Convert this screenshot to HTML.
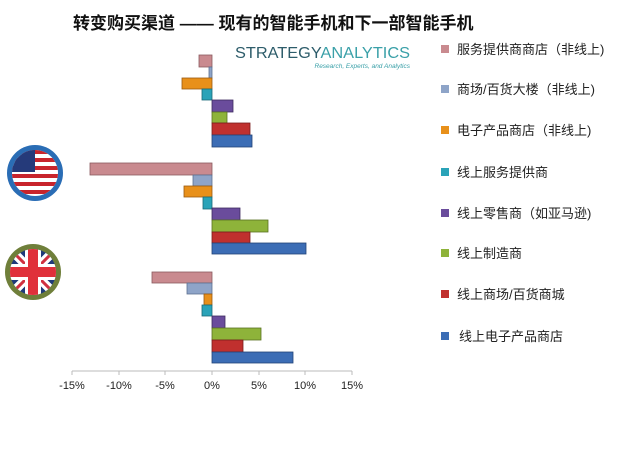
<!DOCTYPE html>
<html><head><meta charset="utf-8"><style>
body{margin:0;background:#fff;}
svg{display:block;font-family:"Liberation Sans","Noto Sans CJK SC",sans-serif;}
</style></head><body>
<svg width="640" height="451" viewBox="0 0 640 451" xmlns="http://www.w3.org/2000/svg">
<defs>
<clipPath id="c1"><circle cx="35" cy="173" r="23"/></clipPath>
<clipPath id="c2"><circle cx="33" cy="272" r="23"/></clipPath>
</defs>
<text x="73" y="29" font-size="17" font-weight="bold" fill="#111">转变购买渠道 —— 现有的智能手机和下一部智能手机</text>
<text x="235" y="58" font-size="16" fill="#2d5c6a" textLength="175" lengthAdjust="spacingAndGlyphs">STRATEGY<tspan fill="#3aa0a8">ANALYTICS</tspan></text>
<text x="410" y="68" font-size="6.5" fill="#3aa0a8" text-anchor="end" font-style="italic">Research, Experts, and Analytics</text>

<g stroke-width="0.8">
<rect x="199" y="55" width="13" height="12" fill="#c98a8f" stroke="#8a5a5e"/>
<rect x="209" y="67" width="3" height="11" fill="#8ea4c8" stroke="#5e7090"/>
<rect x="182" y="78" width="30" height="11" fill="#e8901a" stroke="#9a5a10"/>
<rect x="202" y="89" width="10" height="11" fill="#2aa3b8" stroke="#1a6a78"/>
<rect x="212" y="100" width="21" height="12" fill="#6a4c9c" stroke="#3f2c60"/>
<rect x="212" y="112" width="15" height="11" fill="#8eb33a" stroke="#5a7222"/>
<rect x="212" y="123" width="38" height="12" fill="#c0302e" stroke="#7a1c1c"/>
<rect x="212" y="135" width="40" height="12" fill="#3c6db5" stroke="#224478"/>
<rect x="90" y="163" width="122" height="12" fill="#c98a8f" stroke="#8a5a5e"/>
<rect x="193" y="175" width="19" height="11" fill="#8ea4c8" stroke="#5e7090"/>
<rect x="184" y="186" width="28" height="11" fill="#e8901a" stroke="#9a5a10"/>
<rect x="203" y="197" width="9" height="12" fill="#2aa3b8" stroke="#1a6a78"/>
<rect x="212" y="208" width="28" height="12" fill="#6a4c9c" stroke="#3f2c60"/>
<rect x="212" y="220" width="56" height="12" fill="#8eb33a" stroke="#5a7222"/>
<rect x="212" y="232" width="38" height="11" fill="#c0302e" stroke="#7a1c1c"/>
<rect x="212" y="243" width="94" height="11" fill="#3c6db5" stroke="#224478"/>
<rect x="152" y="272" width="60" height="11" fill="#c98a8f" stroke="#8a5a5e"/>
<rect x="187" y="283" width="25" height="11" fill="#8ea4c8" stroke="#5e7090"/>
<rect x="204" y="294" width="8" height="11" fill="#e8901a" stroke="#9a5a10"/>
<rect x="202" y="305" width="10" height="11" fill="#2aa3b8" stroke="#1a6a78"/>
<rect x="212" y="316" width="13" height="12" fill="#6a4c9c" stroke="#3f2c60"/>
<rect x="212" y="328" width="49" height="12" fill="#8eb33a" stroke="#5a7222"/>
<rect x="212" y="340" width="31" height="12" fill="#c0302e" stroke="#7a1c1c"/>
<rect x="212" y="352" width="81" height="11" fill="#3c6db5" stroke="#224478"/>
</g>

<g stroke="#bbb" stroke-width="1">
<line x1="72" y1="371" x2="352" y2="371"/>
<line x1="72" y1="371" x2="72" y2="375"/><line x1="119" y1="371" x2="119" y2="375"/>
<line x1="165" y1="371" x2="165" y2="375"/><line x1="212" y1="371" x2="212" y2="375"/>
<line x1="259" y1="371" x2="259" y2="375"/><line x1="305" y1="371" x2="305" y2="375"/>
<line x1="352" y1="371" x2="352" y2="375"/>
</g>
<g font-size="11" fill="#222" text-anchor="middle">
<text x="72" y="389">-15%</text><text x="119" y="389">-10%</text><text x="165" y="389">-5%</text>
<text x="212" y="389">0%</text><text x="259" y="389">5%</text><text x="305" y="389">10%</text><text x="352" y="389">15%</text>
</g>

<circle cx="35" cy="173" r="28" fill="#2a6db5"/>
<g clip-path="url(#c1)">
<rect x="10" y="148" width="50" height="50" fill="#fff"/>
<g fill="#c8242c">
<rect x="10" y="150" width="50" height="4"/><rect x="10" y="158" width="50" height="4"/>
<rect x="10" y="166" width="50" height="4"/><rect x="10" y="174" width="50" height="4"/>
<rect x="10" y="182" width="50" height="4"/><rect x="10" y="190" width="50" height="4"/>
</g>
<rect x="10" y="148" width="25" height="24" fill="#253a7a"/>
</g>
<circle cx="33" cy="272" r="28" fill="#6f7f3a"/>
<g clip-path="url(#c2)">
<rect x="8" y="247" width="50" height="50" fill="#1f3a7a"/>
<path d="M8 247 L58 297 M58 247 L8 297" stroke="#fff" stroke-width="9"/>
<path d="M8 247 L58 297 M58 247 L8 297" stroke="#d03040" stroke-width="3"/>
<rect x="8" y="264" width="50" height="16" fill="#fff"/>
<rect x="25" y="247" width="16" height="50" fill="#fff"/>
<rect x="8" y="267" width="50" height="10" fill="#e0303a"/>
<rect x="28" y="247" width="10" height="50" fill="#e0303a"/>
</g>

<g font-size="13" fill="#222">
<rect x="441" y="45" width="8" height="8" fill="#c98a8f"/><text x="457" y="54">服务提供商商店（非线上)</text>
<rect x="441" y="85" width="8" height="8" fill="#8ea4c8"/><text x="457" y="94">商场/百货大楼（非线上)</text>
<rect x="441" y="126" width="8" height="8" fill="#e8901a"/><text x="457" y="135">电子产品商店（非线上)</text>
<rect x="441" y="168" width="8" height="8" fill="#2aa3b8"/><text x="457" y="177">线上服务提供商</text>
<rect x="441" y="209" width="8" height="8" fill="#6a4c9c"/><text x="457" y="218">线上零售商（如亚马逊)</text>
<rect x="441" y="249" width="8" height="8" fill="#8eb33a"/><text x="457" y="258">线上制造商</text>
<rect x="441" y="290" width="8" height="8" fill="#c0302e"/><text x="457" y="299">线上商场/百货商城</text>
<rect x="441" y="332" width="8" height="8" fill="#3c6db5"/><text x="459" y="341">线上电子产品商店</text>
</g>
</svg>
</body></html>
